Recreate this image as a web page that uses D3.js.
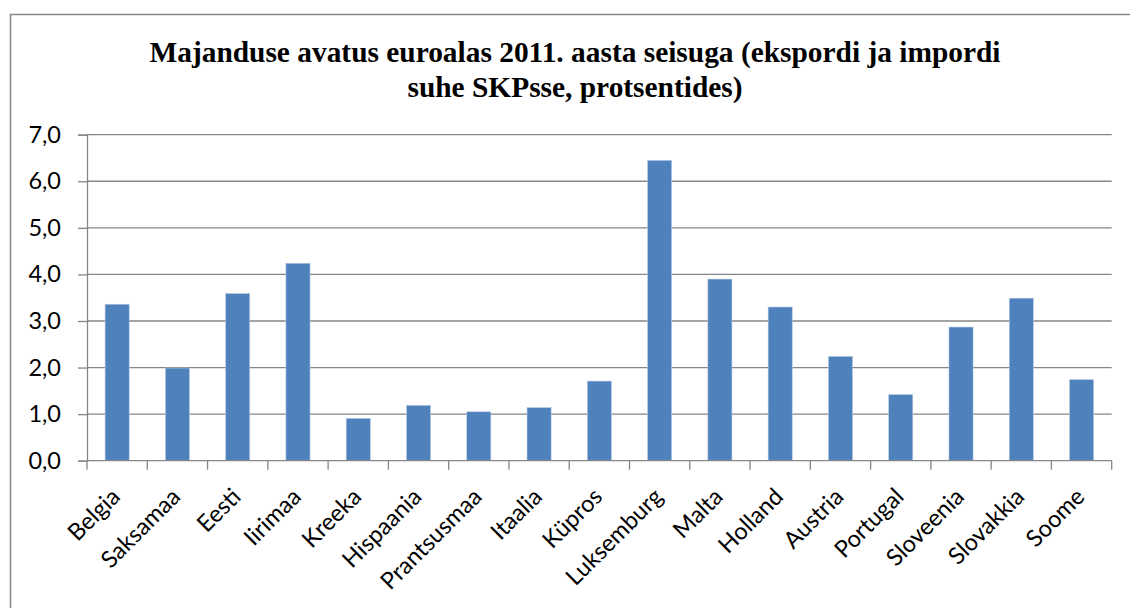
<!DOCTYPE html>
<html>
<head>
<meta charset="utf-8">
<script src="https://cdn.jsdelivr.net/npm/d3@7"></script>
<style>
  body { margin: 0; background: #fff; }
  svg { display: block; }
</style>
</head>
<body>
<div id="chart"></div>
<script>
// chart data
const countries = ["Belgia", "Saksamaa", "Eesti", "Iirimaa", "Kreeka", "Hispaania", "Prantsusmaa",
    "Itaalia", "Küpros", "Luksemburg", "Malta", "Holland", "Austria", "Portugal", "Sloveenia",
    "Slovakkia", "Soome"];
const openness = [3.36, 1.99, 3.59, 4.24, 0.91, 1.19, 1.05, 1.14, 1.71, 6.45, 3.90, 3.30, 2.24,
    1.42, 2.87, 3.49, 1.74];
const yTicks = [0, 1, 2, 3, 4, 5, 6, 7];
const titleLines = ["Majanduse avatus euroalas 2011. aasta seisuga (ekspordi ja impordi",
    "suhe SKPsse, protsentides)"];

const width = 1130, height = 609;
const margin = {top: 134.7, right: 18.3, bottom: 148.3, left: 87};
const plotW = width - margin.left - margin.right,
    plotH = height - margin.top - margin.bottom;

const svg = d3.select("#chart").append("svg")
    .attr("width", width)
    .attr("height", height);

// outer frame (only top and left visible)
svg.append("path")
    .attr("d", "M10.5,608 V14.5 H1130")
    .attr("fill", "none")
    .attr("stroke", "#868686")
    .attr("stroke-width", 1.5);

// title
svg.append("text")
    .attr("x", 575)
    .attr("y", 62)
    .attr("text-anchor", "middle")
    .style("font-family", "'Liberation Serif', 'Times New Roman', serif")
    .style("font-weight", "bold")
    .style("font-size", "29.4px")
    .selectAll("tspan")
    .data(titleLines)
    .join("tspan")
        .attr("x", 575)
        .attr("dy", (d, i) => i === 0 ? 0 : 35)
        .text(d => d);

const g = svg.append("g")
    .attr("transform", "translate(" + margin.left + "," + margin.top + ")");

const x = d3.scaleBand()
    .domain(countries)
    .range([0, plotW])
    .paddingInner(0.6)
    .paddingOuter(0.3);

const y = d3.scaleLinear()
    .domain([0, 7])
    .range([plotH, 0]);

// gridlines
g.append("g")
    .selectAll("line")
    .data(yTicks.slice(1))
    .join("line")
        .attr("x1", 0)
        .attr("x2", plotW)
        .attr("y1", d => y(d))
        .attr("y2", d => y(d))
        .attr("stroke", "#868686")
        .attr("stroke-width", 1.3);

// bars
g.append("g")
    .selectAll("rect")
    .data(countries)
    .join("rect")
        .attr("x", d => x(d))
        .attr("y", (d, i) => y(openness[i]))
        .attr("width", x.bandwidth())
        .attr("height", (d, i) => plotH - y(openness[i]))
        .attr("fill", "#4F81BD")
        .attr("stroke", "#B9CDE5")
        .attr("stroke-width", 0.6);

// Y axis
const yAxis = g.append("g")
    .call(d3.axisLeft(y).tickValues(yTicks).tickSize(9).tickPadding(17)
        .tickFormat(d => d3.format(".1f")(d).replace(".", ",")));
yAxis.select(".domain").attr("stroke", "#868686").attr("stroke-width", 1.3);
yAxis.selectAll(".tick line").attr("stroke", "#868686").attr("stroke-width", 1.3);
yAxis.selectAll("text")
    .style("font-family", "Lato, 'Open Sans', sans-serif")
    .style("font-size", "23.5px")
    .attr("fill", "#000");

// X axis: ticks on band boundaries
const xAxis = g.append("g")
    .attr("transform", "translate(0," + plotH + ")");
xAxis.append("line")
    .attr("x1", 0).attr("x2", plotW)
    .attr("stroke", "#868686").attr("stroke-width", 1.3);
const step = x.step();
xAxis.selectAll(".xtick")
    .data(d3.range(countries.length + 1))
    .join("line")
        .attr("class", "xtick")
        .attr("x1", i => i * step)
        .attr("x2", i => i * step)
        .attr("y1", 0)
        .attr("y2", 9)
        .attr("stroke", "#868686")
        .attr("stroke-width", 1.3);

xAxis.selectAll(".xlabel")
    .data(countries)
    .join("text")
        .attr("class", "xlabel")
        .attr("text-anchor", "end")
        .attr("transform", d => "translate(" + (x(d) + x.bandwidth() / 2 - 8) + ",25) rotate(-45)")
        .attr("dy", "0.75em")
        .style("font-family", "Lato, 'Open Sans', sans-serif")
        .style("font-size", "23.5px")
        .attr("fill", "#000")
        .text(d => d);
</script>
</body>
</html>
